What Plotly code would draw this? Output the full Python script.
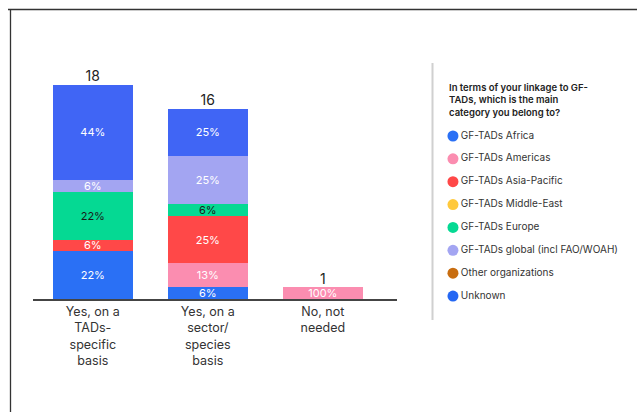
import math
import plotly.graph_objects as go

# ---- data ----
categories = ["Yes, on a<br>TADs-<br>specific<br>basis",
              "Yes, on a<br>sector/<br>species<br>basis",
              "No, not<br>needed"]
groups = ["GF-TADs Africa", "GF-TADs Americas", "GF-TADs Asia-Pacific",
          "GF-TADs Middle-East", "GF-TADs Europe", "GF-TADs global (incl FAO/WOAH)",
          "Other organizations", "Unknown"]
counts_africa = [4, 1, 0]
counts_americas = [0, 2, 1]
counts_asia = [1, 4, 0]
counts_middle_east = [0, 0, 0]
counts_europe = [4, 1, 0]
counts_global = [1, 4, 0]
counts_other = [0, 0, 0]
counts_unknown = [8, 4, 0]
legend_title = "In terms of your linkage to GF-<br>TADs, which is the main<br>category you belong to?"

series = [counts_africa, counts_americas, counts_asia, counts_middle_east,
          counts_europe, counts_global, counts_other, counts_unknown]
colors = ["#2a70f5", "#fb8db0", "#ff4848", "#ffc93c",
          "#05d993", "#a3a5f2", "#c86d10", "#4065f5"]
text_colors = ["white", "white", "white", "white", "#1a1a1a", "white", "white", "white"]
legend_colors = ["#2a70f5", "#fb8db0", "#ff4848", "#ffc93c",
                 "#05d993", "#a3a5f2", "#c86d10", "#2467f3"]

totals = [sum(s[i] for s in series) for i in range(len(categories))]

FONT = "Inter, Roboto, Arial, sans-serif"
W, H = 637, 412

fig = go.Figure()

for name, vals, col, tcol in zip(groups, series, colors, text_colors):
    labels = [f"{math.floor(v / t * 100 + 0.5)}%" if v > 0 else "" for v, t in zip(vals, totals)]
    fig.add_trace(go.Bar(
        x=categories, y=vals, name=name, marker=dict(color=col, line=dict(width=0)),
        text=labels, textposition="inside", insidetextanchor="middle", textangle=0,
        textfont=dict(color=tcol, size=11, family=FONT),
        hoverinfo="skip", showlegend=False, width=0.7,
    ))

# totals on top
fig.add_trace(go.Scatter(
    x=categories, y=totals, mode="text", text=[str(t) for t in totals],
    textposition="top center", textfont=dict(size=14, color="#222", family=FONT),
    showlegend=False, hoverinfo="skip", cliponaxis=False,
))

# custom legend on secondary axes (index-based positions)
fig.add_trace(go.Scatter(
    x=[0] * len(groups), y=list(range(len(groups))), mode="markers+text",
    marker=dict(color=legend_colors, size=11, symbol="circle"),
    text=groups, textposition="middle right",
    textfont=dict(size=10, color="#333", family=FONT),
    xaxis="x2", yaxis="y2", showlegend=False, hoverinfo="skip", cliponaxis=False,
))

px_per_item = 22.86
first_item_y = 136
span = H / px_per_item
top_units = first_item_y / px_per_item

fig.update_layout(
    width=W, height=H, margin=dict(l=0, r=0, t=0, b=0),
    paper_bgcolor="white", plot_bgcolor="white",
    barmode="stack", bargap=0.3,
    uniformtext=dict(minsize=11, mode="show"),
    font=dict(family=FONT, color="#333"),
    xaxis=dict(domain=[33 / W, 397 / W], range=[-0.52, 2.645], showgrid=False,
               showline=True, linecolor="#444", linewidth=2, ticks="",
               tickfont=dict(size=12.5, color="#333", family=FONT),
               automargin=False, fixedrange=True),
    yaxis=dict(domain=[(H - 299) / H, (H - 61) / H], range=[0, 20], visible=False,
               automargin=False, fixedrange=True),
    xaxis2=dict(domain=[440 / W, 1], range=[-1.0, 14.2], visible=False, anchor="y2"),
    yaxis2=dict(domain=[0, 1], range=[span - top_units, -top_units], visible=False, anchor="x2"),
    annotations=[dict(
        x=447 / W, y=1 - 80 / H, xref="paper", yref="paper", xanchor="left", yanchor="top",
        text=legend_title, showarrow=False, align="left",
        font=dict(size=9.5, color="#222", family=FONT, weight=600),
    )],
    shapes=[
        dict(type="line", xref="paper", yref="paper", x0=8 / W, x1=1, y0=1 - 9.5 / H, y1=1 - 9.5 / H,
             line=dict(color="#333", width=1.3)),
        dict(type="line", xref="paper", yref="paper", x0=10.5 / W, x1=10.5 / W, y0=0, y1=1 - 9.5 / H,
             line=dict(color="#333", width=1.3)),
        dict(type="line", xref="paper", yref="paper", x0=432.5 / W, x1=432.5 / W,
             y0=1 - 320 / H, y1=1 - 63 / H, line=dict(color="#d0d0d0", width=2)),
    ],
)

fig.write_html("out.html")
